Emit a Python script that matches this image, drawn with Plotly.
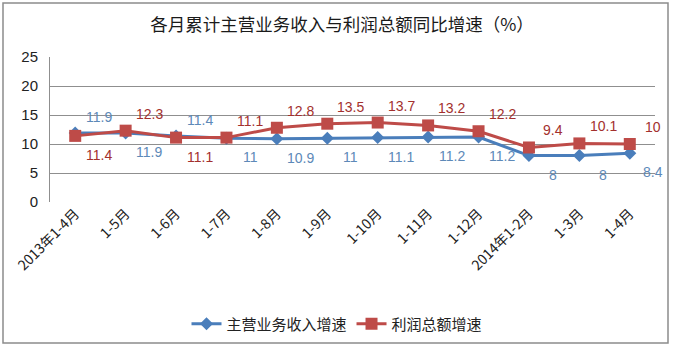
import plotly.graph_objects as go

# Month ranges (cumulative, year-on-year)
categories = ["2013年1-4月", "1-5月", "1-6月", "1-7月", "1-8月", "1-9月",
              "1-10月", "1-11月", "1-12月", "2014年1-2月", "1-3月", "1-4月"]
revenue_growth = [11.9, 11.9, 11.4, 11, 10.9, 11, 11.1, 11.2, 11.2, 8, 8, 8.4]
profit_growth = [11.4, 12.3, 11.1, 11.1, 12.8, 13.5, 13.7, 13.2, 12.2, 9.4, 10.1, 10]
y_ticks = [0, 5, 10, 15, 20, 25]

W, H = 674, 346
ML, MR, MT, MB = 50, 19, 57, 144
PW, PH = W - ML - MR, H - MT - MB

BLUE = "#4a7ebb"
RED = "#be4b48"
BLUE_TXT = "#5d89b8"
RED_TXT = "#a3302d"
FONT = "Noto Sans CJK SC"

xs = list(range(len(categories)))

fig = go.Figure()
fig.add_trace(go.Scatter(
    x=xs, y=revenue_growth, name="主营业务收入增速", mode="lines+markers",
    line=dict(color=BLUE, width=3),
    marker=dict(symbol="diamond", size=10, color=BLUE),
))
fig.add_trace(go.Scatter(
    x=xs, y=profit_growth, name="利润总额增速", mode="lines+markers",
    line=dict(color=RED, width=3),
    marker=dict(symbol="square", size=12, color=RED),
))

# Data labels sit half a category to the right of each point
blue_side = [1, -1, 1, -1, -1, -1, -1, -1, -1, -1, -1, -1]
red_side = [-1, 1, -1, 1, 1, 1, 1, 1, 1, 1, 1, 1]
annotations = []
for i, v in enumerate(revenue_growth):
    annotations.append(dict(
        x=i + 0.47, y=v, xref="x", yref="y", text=f"{v:g}", showarrow=False,
        yshift=16 if blue_side[i] > 0 else -19,
        font=dict(family="Liberation Sans", size=14, color=BLUE_TXT),
    ))
for i, v in enumerate(profit_growth):
    annotations.append(dict(
        x=i + 0.47, y=v, xref="x", yref="y", text=f"{v:g}", showarrow=False,
        yshift=17 if red_side[i] > 0 else -19,
        font=dict(family="Liberation Sans", size=14, color=RED_TXT),
    ))


def px_x(p):
    return (p - ML) / PW


def px_y(p):
    return (H - MB - p) / PH


fig.update_layout(
    width=W, height=H,
    margin=dict(l=ML, r=MR, t=MT, b=MB, autoexpand=False),
    paper_bgcolor="white", plot_bgcolor="white",
    title=dict(text="各月累计主营业务收入与利润总额同比增速（%）",
               x=px_x(342), xanchor="center", xref="paper",
               y=1 - 25 / H, yanchor="middle",
               font=dict(family=FONT, size=17.5, color="#1a1a1a")),
    showlegend=True,
    legend=dict(orientation="h", x=px_x(337), xanchor="center",
                y=px_y(324), yanchor="middle",
                font=dict(family=FONT, size=15, color="#222"),
                itemwidth=30, tracegroupgap=0),
    annotations=annotations,
    shapes=[dict(type="rect", xref="paper", yref="paper",
                 x0=px_x(3), x1=px_x(668), y0=px_y(343), y1=px_y(3),
                 line=dict(color="#8c8c8c", width=1.5), layer="below")],
    xaxis=dict(
        range=[-0.5, len(categories) - 0.5], automargin=False,
        tickmode="array", tickvals=xs, ticktext=categories,
        tickangle=-45, showgrid=False, zeroline=False, ticks="",
        tickfont=dict(family=FONT, size=14, color="#222"),
        showline=False,
    ),
    yaxis=dict(
        range=[0, 25], tickmode="array", tickvals=y_ticks, automargin=False,
        showgrid=True, gridcolor="#8f8f8f", gridwidth=1,
        zeroline=False, showline=True, linecolor="#8f8f8f", linewidth=1,
        ticks="", ticklabelstandoff=8,
        tickfont=dict(family="Liberation Sans", size=15, color="#222"),
    ),
)

fig.write_html("out.html")
